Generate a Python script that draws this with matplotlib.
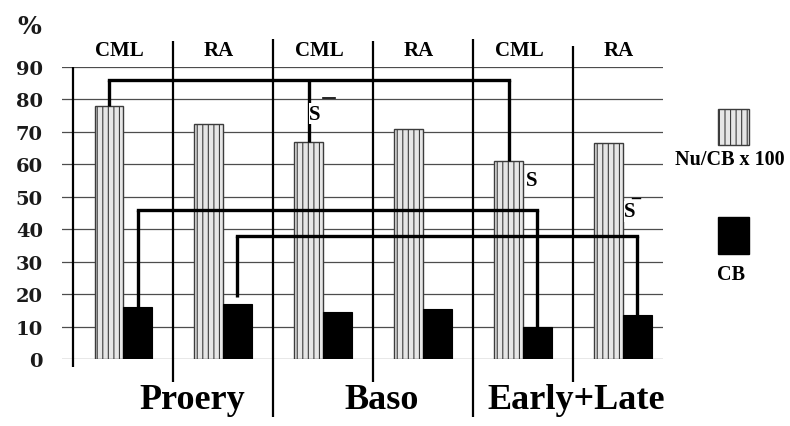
import matplotlib
matplotlib.use("Agg")
import matplotlib.pyplot as plt
from matplotlib.patches import Rectangle

# ---- data -------------------------------------------------------------
groups = ["Proery", "Baso", "Early+Late"]
diseases = ["CML", "RA", "CML", "RA", "CML", "RA"]
nu_cb_x100 = [78, 72.5, 67, 71, 61, 66.5]   # Nu/CB x 100
cb = [16, 17, 14.5, 15.5, 10, 13.5]          # CB
y_ticks = [0, 10, 20, 30, 40, 50, 60, 70, 80, 90]
legend_labels = ["Nu/CB x 100", "CB"]

# significance brackets: bracket level and the bars it joins (series, column)
brackets = [
    (86, [("ratio", 0), ("ratio", 2), ("ratio", 4)]),
    (46, [("cb", 0), ("cb", 4)]),
    (38, [("cb", 1), ("cb", 5)]),
]
sig_text = "S"

# ---- styling ------------------------------------------------------------
SERIF = "Liberation Serif"
STRIPE_FILL = "#e6e6e6"
STRIPE_EDGE = "#3c3c3c"
GRID = "#4d4d4d"
plt.rcParams["hatch.linewidth"] = 0.8

fig = plt.figure(figsize=(7.9, 4.27), dpi=100)
W, H = 790, 427
ax = fig.add_axes([62 / W, 67 / H, 601 / W, 292 / H])
ax.set_xlim(-0.11, 5.9)
ax.set_ylim(0, 90)
for s in ax.spines.values():
    s.set_visible(False)

# horizontal grid
for y in y_ticks:
    ax.axhline(y, color=GRID, lw=0.9, zorder=1)

# bars
bw = 0.29
x_ratio = [i + 0.36 for i in range(len(diseases))]
x_cb = [i + 0.645 for i in range(len(diseases))]
ax.bar(x_ratio, nu_cb_x100, width=bw, color=STRIPE_FILL, edgecolor=STRIPE_EDGE,
       hatch="|||", linewidth=1.0, zorder=2)
ax.bar(x_cb, cb, width=bw, color="black", edgecolor="black", linewidth=0.8, zorder=2)

# y axis line and column dividers
ax.vlines(0, -2.5, 90, color="black", lw=1.6, clip_on=False, zorder=3)
ax.vlines([1, 3], -7, 98, color="black", lw=1.6, clip_on=False, zorder=3)
ax.vlines([5], -7, 96.5, color="black", lw=1.6, clip_on=False, zorder=3)
ax.vlines([2, 4], -18, 98.5, color="black", lw=1.6, clip_on=False, zorder=3)

# significance brackets
series_pos = {"ratio": (x_ratio, nu_cb_x100), "cb": (x_cb, cb)}
for level, members in brackets:
    xs = [series_pos[s][0][c] for s, c in members]
    tops = [series_pos[s][1][c] for s, c in members]
    ax.plot([min(xs), max(xs)], [level, level], color="black", lw=2.4,
            solid_capstyle="projecting", clip_on=False, zorder=4)
    for k, (x, t) in enumerate(zip(xs, tops)):
        end = t + (2 if (level == 38 and k == 0) else 0)
        ax.plot([x, x], [level, end], color="black", lw=2.4,
                solid_capstyle="butt", clip_on=False, zorder=4)

for (sx, sy) in [(2.42, 75.6), (4.59, 55.2), (5.57, 45.5)]:
    ax.text(sx, sy, sig_text, ha="center", va="center", fontsize=15,
            fontweight="bold", family=SERIF, zorder=5,
            bbox=dict(facecolor="white", edgecolor="none", pad=0.5))
ax.plot([2.5, 2.62], [80.5, 80.5], color="black", lw=1.2, zorder=5)
ax.plot([5.59, 5.67], [49.7, 49.7], color="black", lw=1.0, zorder=5)

# y ticks
ax.set_xticks([])
ax.set_yticks(y_ticks)
ax.set_yticklabels([str(v) for v in y_ticks], family="DejaVu Serif",
                   fontweight="bold", fontsize=14, color="#1a1a1a")
ax.tick_params(axis="y", length=0, pad=13.7)

# column headers
for i, d in enumerate(diseases):
    ax.text(i + 0.46, 95.1, d, ha="center", va="center", fontsize=15,
            fontweight="bold", family=SERIF, clip_on=False)

# group labels
for gx, g in zip([1.19, 3.09, 5.03], groups):
    ax.text(gx, -12.5, g, ha="center", va="center", fontsize=26,
            fontweight="bold", family=SERIF, clip_on=False)

# unit
fig.text(29 / W, 1 - 27 / H, "%", ha="center", va="center", fontsize=18,
         fontweight="bold", family="DejaVu Serif", color="#1a1a1a")

# legend
fig.add_artist(Rectangle((718 / W, 1 - 146 / H), 31 / W, 36 / H,
                         transform=fig.transFigure, facecolor=STRIPE_FILL,
                         edgecolor=STRIPE_EDGE, hatch="|||", lw=1.0))
fig.add_artist(Rectangle((718 / W, 1 - 255 / H), 31 / W, 37 / H,
                         transform=fig.transFigure, facecolor="black",
                         edgecolor="black", lw=1.0))
fig.text(730 / W, 1 - 160 / H, legend_labels[0], ha="center", va="center",
         fontsize=14.5, fontweight="bold", family=SERIF)
fig.text(731 / W, 1 - 275 / H, legend_labels[1], ha="center", va="center",
         fontsize=14.5, fontweight="bold", family=SERIF)

fig.savefig("out.png", dpi=100, facecolor="white")
